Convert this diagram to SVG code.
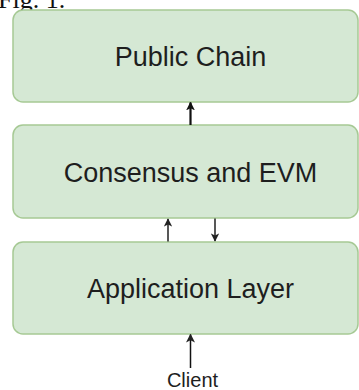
<svg xmlns="http://www.w3.org/2000/svg" width="359" height="390" viewBox="0 0 359 390">
  <defs>
    <style>
      .layer { fill: #d5e8d4; stroke: #a6c994; stroke-width: 1.5; }
      .label { font-family: "Liberation Sans", Arial, sans-serif; font-size: 27px; fill: #1e1e1e; text-anchor: middle; }
      .small { font-family: "Liberation Sans", Arial, sans-serif; font-size: 20px; fill: #1e1e1e; text-anchor: middle; }
      .caption { font-family: "Liberation Serif", "Times New Roman", serif; font-size: 26px; fill: #111; }
      .link { stroke: #111; fill: none; }
    </style>
    <marker id="head" viewBox="0 0 10 10" refX="9" refY="5" markerWidth="4" markerHeight="4.5" markerUnits="strokeWidth" orient="auto">
      <path d="M0,0 L10,5 L0,10 L2.5,5 Z" fill="#111"/>
    </marker>
    <marker id="headThin" viewBox="0 0 10 10" refX="9" refY="5" markerWidth="6" markerHeight="6" markerUnits="strokeWidth" orient="auto">
      <path d="M0,0 L10,5 L0,10 L2.5,5 Z" fill="#222"/>
    </marker>
  </defs>

  <text class="caption" x="-2" y="8">Fig. 1.</text>

  <g id="public-chain">
    <rect class="layer" x="13" y="10" width="345" height="92" rx="10" ry="10"/>
    <text class="label" x="190.5" y="66">Public Chain</text>
  </g>

  <g id="consensus-evm">
    <rect class="layer" x="13" y="125" width="345" height="93" rx="10" ry="10"/>
    <text class="label" x="190.5" y="182">Consensus and EVM</text>
  </g>

  <g id="application-layer">
    <rect class="layer" x="13" y="242" width="345" height="92" rx="10" ry="10"/>
    <text class="label" x="190.5" y="298">Application Layer</text>
  </g>

  <g id="client">
    <text class="small" x="192.5" y="387">Client</text>
  </g>

  <g id="connectors">
    <line class="link" x1="190.5" y1="125" x2="190.5" y2="102.5" stroke-width="2.2" marker-end="url(#head)"/>
    <line class="link" x1="168" y1="241.5" x2="168" y2="219" stroke-width="1.4" stroke="#333" marker-end="url(#headThin)"/>
    <line class="link" x1="215" y1="218.5" x2="215" y2="241" stroke-width="1.4" stroke="#333" marker-end="url(#headThin)"/>
    <line class="link" x1="190.5" y1="368" x2="190.5" y2="334.5" stroke-width="1.5" stroke="#222" marker-end="url(#headThin)"/>
  </g>
</svg>
